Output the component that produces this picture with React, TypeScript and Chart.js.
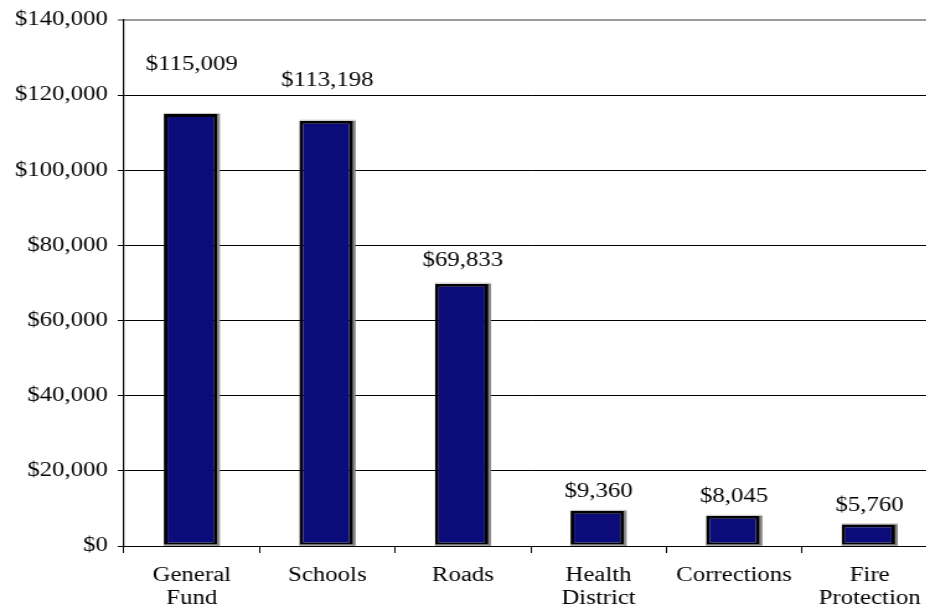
import React, { useEffect, useRef } from "react";
import { Chart, registerables } from "chart.js";

Chart.register(...registerables);

const categories: string[][] = [
  ["General", "Fund"],
  ["Schools"],
  ["Roads"],
  ["Health", "District"],
  ["Corrections"],
  ["Fire", "Protection"],
];
const values: number[] = [115009, 113198, 69833, 9360, 8045, 5760];
const yTicks: number[] = [0, 20000, 40000, 60000, 80000, 100000, 120000, 140000];

// style constants
const SX = 1.24; // horizontal stretch of the picture
const CANVAS_W = 756;
const CANVAS_H = 614;
const labelOffsets = [49, 40, 23, 19, 19, 19];
const FONT = "'Liberation Serif', 'Times New Roman', serif";
const NAVY = "#0b0b7a";

const fmt = (v: number) => "$" + v.toLocaleString("en-US");

const bevelPlugin = {
  id: "bevel",
  afterDatasetsDraw(chart: any) {
    const ctx = chart.ctx;
    const meta = chart.getDatasetMeta(0);
    ctx.save();
    meta.data.forEach((bar: any) => {
      const { x, y, base, width } = bar.getProps(["x", "y", "base", "width"], true);
      const left = x - width / 2;
      const right = x + width / 2;
      ctx.fillStyle = "#8c8c8c";
      ctx.fillRect(right - 2.2, y, 2.2, base - y);
      ctx.fillRect(left, base - 1.3, width, 1.3);
      ctx.fillStyle = "#c4c4c4";
      ctx.fillRect(left, y - 1, width, 1);
    });
    ctx.restore();
  },
};

const labelPlugin = {
  id: "valueLabels",
  afterDatasetsDraw(chart: any) {
    const ctx = chart.ctx;
    const meta = chart.getDatasetMeta(0);
    ctx.save();
    ctx.font = `20px ${FONT}`;
    ctx.fillStyle = "#000";
    ctx.textAlign = "center";
    ctx.textBaseline = "middle";
    meta.data.forEach((bar: any, i: number) => {
      const { x, y } = bar.getProps(["x", "y"], true);
      ctx.fillText(fmt(values[i]), x, y - labelOffsets[i]);
    });
    ctx.restore();
  },
};

export default function App() {
  const ref = useRef<HTMLCanvasElement | null>(null);

  useEffect(() => {
    if (!ref.current) return;
    Chart.defaults.color = "#000";
    Chart.defaults.font.family = FONT;
    Chart.defaults.font.size = 20;
    const chart = new Chart(ref.current, {
      type: "bar",
      data: {
        labels: categories,
        datasets: [
          {
            data: values,
            backgroundColor: NAVY,
            borderColor: "#000",
            borderWidth: { left: 3, right: 5, top: 3, bottom: 3 },
            borderSkipped: false,
            barPercentage: 0.413,
            categoryPercentage: 1,
          },
        ],
      },
      options: {
        responsive: false,
        animation: false,
        events: [],
        layout: { padding: { top: 19, left: 0, right: 0, bottom: 0 } },
        plugins: {
          legend: { display: false },
          tooltip: { enabled: false },
          title: { display: false },
        },
        scales: {
          x: {
            offset: true,
            grid: {
              offset: true,
              drawOnChartArea: false,
              drawTicks: true,
              tickLength: 7,
              color: "#000",
              lineWidth: 1,
            },
            border: { display: true, color: "#000", width: 1 },
            ticks: {
              padding: 11,
              font: { size: 20, family: FONT, lineHeight: 1.15 },
              color: "#000",
              maxRotation: 0,
              autoSkip: false,
            },
            afterFit(scale: any) {
              scale.height = 68;
            },
          },
          y: {
            min: 0,
            max: 140000,
            afterBuildTicks(scale: any) {
              scale.ticks = yTicks.map((v) => ({ value: v }));
            },
            grid: {
              color: (c: any) => (c.tick && c.tick.value === 140000 ? "#9a9a9a" : "#000"),
              lineWidth: (c: any) => (c.tick && c.tick.value === 140000 ? 2 : 1),
              tickLength: 5,
              drawTicks: true,
            },
            border: { display: true, color: "#000", width: 1.2 },
            ticks: {
              padding: 8,
              font: { size: 20, family: FONT },
              color: "#000",
              callback: (v: any) => fmt(Number(v)),
            },
            afterFit(scale: any) {
              scale.width = 100;
            },
          },
        },
      },
      plugins: [bevelPlugin, labelPlugin],
    });
    return () => chart.destroy();
  }, []);

  return (
    <div
      style={{
        position: "absolute",
        left: 0,
        top: 0,
        width: 926,
        height: 614,
        overflow: "hidden",
        background: "#fff",
      }}
    >
      <canvas
        ref={ref}
        width={CANVAS_W}
        height={CANVAS_H}
        style={{ display: "block", transform: `scaleX(${SX})`, transformOrigin: "0 0" }}
      />
    </div>
  );
}
